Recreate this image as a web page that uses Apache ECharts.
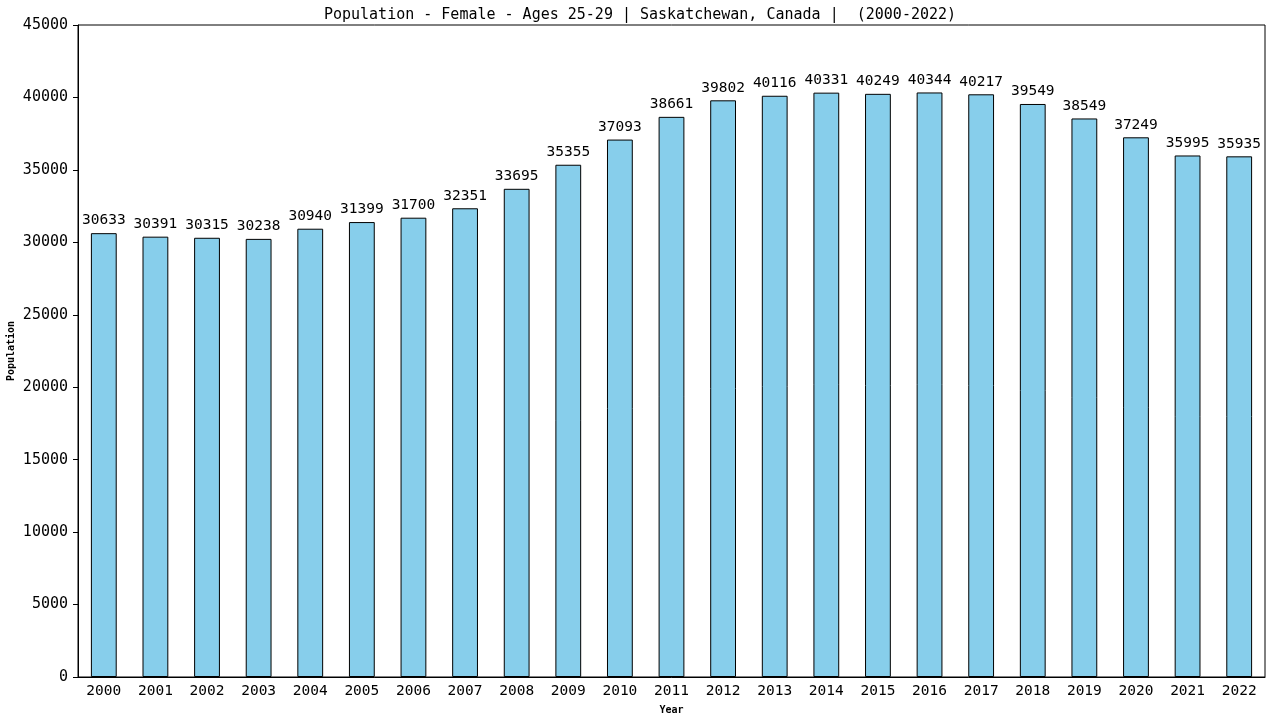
<!DOCTYPE html>
<html><head><meta charset="utf-8">
<script src="https://cdn.jsdelivr.net/npm/echarts@6/dist/echarts.min.js"></script>
<style>html,body{margin:0;padding:0;background:#fff}#c{width:1280px;height:720px}</style>
</head><body><div id="c"></div>
<script>
const years = ['2000','2001','2002','2003','2004','2005','2006','2007','2008','2009','2010','2011','2012','2013','2014','2015','2016','2017','2018','2019','2020','2021','2022'];
const population = [30633,30391,30315,30238,30940,31399,31700,32351,33695,35355,37093,38661,39802,40116,40331,40249,40344,40217,39549,38549,37249,35995,35935];
const font = 'DejaVu Sans Mono';
const chart = echarts.init(document.getElementById('c'));
chart.setOption({
  animation: false,
  title: {text: 'Population - Female - Ages 25-29 | Saskatchewan, Canada |  (2000-2022)', left: 'center', top: 3,
    textStyle: {fontFamily: font, fontSize: 15, fontWeight: 'normal', color: '#000'}},
  grid: {left: 78, right: 15, top: 25, bottom: 43, outerBoundsMode: 'none', containLabel: false, show: true, borderColor: '#000', borderWidth: 1},
  xAxis: {type: 'category', data: years, name: 'Year', nameLocation: 'middle', nameGap: 28, nameMoveOverlap: false,
    nameTextStyle: {fontFamily: font, fontSize: 10, fontWeight: 'bold', color: '#000'},
    axisLine: {lineStyle: {color: '#000'}}, axisTick: {show: false},
    axisLabel: {fontFamily: font, fontSize: 14.5, color: '#000', margin: 7}},
  yAxis: {type: 'value', min: 0, max: 45000, interval: 5000, name: 'Population', nameLocation: 'middle', nameGap: 62, nameMoveOverlap: false,
    nameTextStyle: {fontFamily: font, fontSize: 10, fontWeight: 'bold', color: '#000'},
    axisLine: {show: true, lineStyle: {color: '#000'}}, axisTick: {show: true, length: 5, lineStyle: {color: '#000'}},
    splitLine: {show: false},
    axisLabel: {fontFamily: font, fontSize: 15, color: '#000', margin: 10, formatter: v => String(v)}},
  series: [{type: 'bar', data: population, barWidth: '50%',
    itemStyle: {color: '#87ceeb', borderColor: '#000', borderWidth: 1},
    label: {show: true, position: 'top', distance: 5, fontFamily: font, fontSize: 14.5, color: '#000'}}]
});
</script></body></html>
